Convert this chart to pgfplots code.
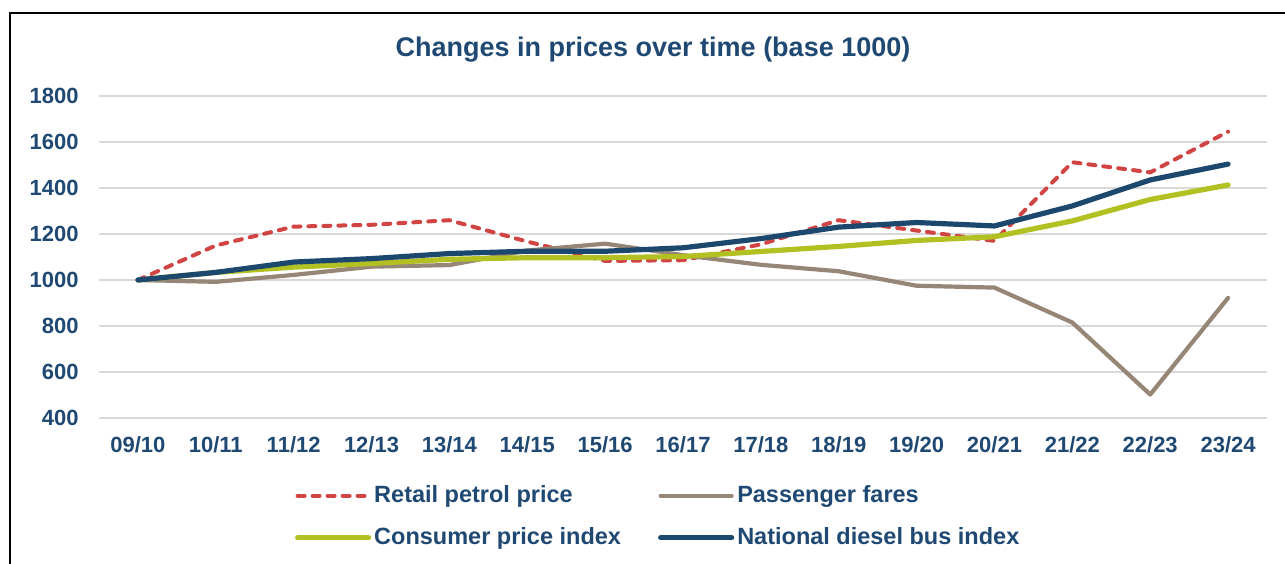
\documentclass[border=0pt]{standalone}
\usepackage{fontspec}
\setmainfont{Liberation Sans}
\usepackage{pgfplots}
\pgfplotsset{compat=1.18}
\definecolor{txt}{RGB}{31,73,115}
\definecolor{petrol}{RGB}{208,68,68}
\definecolor{fares}{RGB}{150,134,118}
\definecolor{cpi}{RGB}{178,192,34}
\definecolor{bus}{RGB}{28,72,110}
\definecolor{gridc}{RGB}{217,217,217}
\begin{document}
\begin{tikzpicture}
\path[use as bounding box] (0,0) rectangle (642.5pt,281.5pt);
\draw[line width=1.2pt] (5pt,-2pt) -- (5pt,275pt) -- (645pt,275pt);
\node[font=\bfseries\fontsize{13.5}{16}\selectfont, text=txt] at (326.5pt,256.5pt) {Changes in prices over time (base 1000)};
\begin{axis}[
  at={(49.5pt,72.5pt)}, anchor=south west, scale only axis,
  width=584pt, height=161pt,
  xmin=-0.5, xmax=14.5, ymin=400, ymax=1800,
  ytick={400,600,...,1800},
  xtick={0,...,14},
  xticklabels={09/10,10/11,11/12,12/13,13/14,14/15,15/16,16/17,17/18,18/19,19/20,20/21,21/22,22/23,23/24},
  ymajorgrids, grid style={gridc, line width=0.9pt},
  axis line style={draw=none},
  major tick length=0pt,
  tick label style={font=\bfseries\fontsize{11}{13}\selectfont, text=txt},
  /pgf/number format/assume math mode=true,
  /pgf/number format/set thousands separator={},
  yticklabel style={inner sep=0pt, anchor=east, xshift=-10pt},
  xticklabel style={inner sep=0pt, anchor=north, yshift=-9pt},
  clip=false,
  legend columns=2,
  legend cell align=left,
  legend image code/.code={\draw[#1] (0pt,0pt) -- (35.5pt,0pt);},
  legend style={at={(rel axis cs:0.1675,-0.2)}, anchor=north west, draw=none, fill=none,
    inner sep=0pt, font=\bfseries\fontsize{11.75}{13}\selectfont, text=txt,
    row sep=8pt, nodes={inner sep=1.5pt},
    /tikz/every even column/.append style={column sep=17pt}},
]
\addplot[petrol, line width=2pt, line cap=round, dash pattern=on 3.5pt off 4pt] coordinates {
(0,1000) (1,1150) (2,1232) (3,1240) (4,1260) (5,1167) (6,1083) (7,1086) (8,1155) (9,1260) (10,1215) (11,1170) (12,1512) (13,1468) (14,1645)};
\addlegendentry{Retail petrol price}
\addplot[fares, line width=2.1pt, line cap=round, line join=round] coordinates {
(0,1000) (1,992) (2,1022) (3,1058) (4,1065) (5,1128) (6,1158) (7,1108) (8,1066) (9,1038) (10,975) (11,967) (12,815) (13,502) (14,922)};
\addlegendentry{Passenger fares}
\addplot[cpi, line width=2.6pt, line cap=round, line join=round] coordinates {
(0,1000) (1,1033) (2,1056) (3,1072) (4,1090) (5,1097) (6,1097) (7,1102) (8,1124) (9,1146) (10,1172) (11,1188) (12,1257) (13,1350) (14,1413)};
\addlegendentry{Consumer price index}
\addplot[bus, line width=2.6pt, line cap=round, line join=round] coordinates {
(0,1000) (1,1033) (2,1078) (3,1093) (4,1115) (5,1125) (6,1125) (7,1140) (8,1180) (9,1230) (10,1250) (11,1235) (12,1322) (13,1435) (14,1504)};
\addlegendentry{National diesel bus index}
\end{axis}
\end{tikzpicture}
\end{document}
